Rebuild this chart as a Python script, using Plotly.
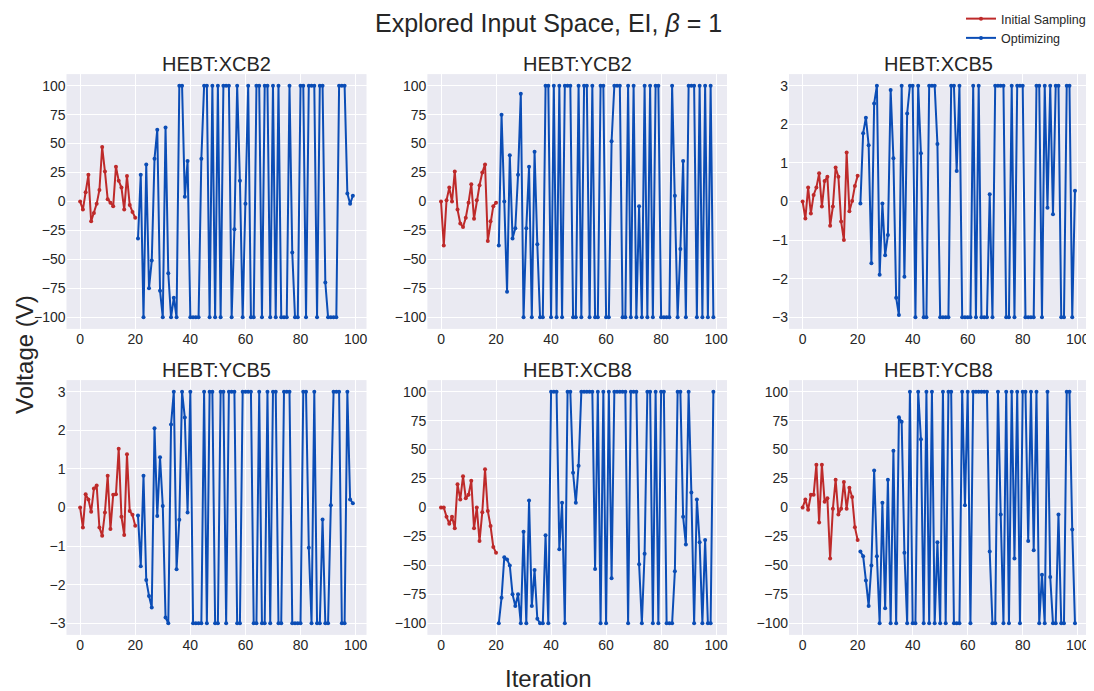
import plotly.graph_objects as go

channels = ["HEBT:XCB2", "HEBT:YCB2", "HEBT:XCB5", "HEBT:YCB5", "HEBT:XCB8", "HEBT:YCB8"]

xcb2_init = [0, -7, 8, 23, -17, -10, -2, 10, 47, 26, 2, -1, -4, 30, 18, 12, -7, 22, -3, -9, -14]
xcb2_opt = [-32, 23, -100, 32, -75, -51, 37, 62, -77, -100,
            64, -62, -100, -83, -100, 100, 100, 4, 35, -100,
            -100, -100, -100, 37, 100, 100, -100, 100, -100, 100,
            -100, 100, 100, 100, -100, -24, 100, 18, -100, -2,
            100, -100, -100, 100, 100, -100, 100, 100, -100, 100,
            -100, 100, -100, -100, -100, 100, -44, -100, -100, 100,
            100, -100, 100, 100, 100, -100, 100, 100, -70, -100,
            -100, -100, -100, 100, 100, 100, 7, -2, 5]

ycb2_init = [0, -38, 1, 12, 0, 26, -7, -19, -22, -14, -1, 15, -15, 1, 14, 25, 32, -34, -17, -4, -1]
ycb2_opt = [-38, 75, 0, -78, 40, -32, -23, 23, 93, -100,
            -23, 30, -100, 43, -37, -100, -100, 100, 100, -100,
            100, -100, 100, -100, 100, 100, 100, -100, -100, 100,
            -100, 100, 100, -100, 100, -100, -100, 100, 100, -100,
            -100, 52, 100, 100, 100, -100, -100, 100, -100, 100,
            -100, -4, -100, 100, -100, 100, -100, 100, 100, -100,
            -100, -100, -100, 100, 5, -100, -41, 35, -100, 100,
            100, 100, -100, 100, -100, 100, -100, 100, -100]

xcb5_init = [0, -0.44, 0.36, -0.31, 0.17, 0.36, 0.73, -0.13, 0.53, 0.64, -0.63, -0.13, 0.88, 0.64,
             -0.52, -1.0, 1.27, -0.25, 0.01, 0.40, 0.67]
xcb5_opt = [-0.05, 1.77, 2.17, 1.46, -1.60, 2.54, 3, -1.90, -0.05, -1.39,
            -0.87, 2.89, 1.12, -2.49, -2.94, 3, -1.95, 2.28, 3, 3,
            -3, 3, 1.25, -3, -3, 3, 3, 3, 1.49, -3,
            -3, -3, -3, 3, 3, 0.79, 3, -3, -3, -3,
            -3, 3, -3, 3, -3, -3, -3, 0.19, -3, 3,
            3, 3, 3, -3, -3, 3, -3, 3, 3, 3,
            -3, -3, -3, -3, 3, 3, -3, 3, -0.16, 3,
            -0.33, 3, 3, -3, -3, 3, 3, -3, 0.28]

ycb5_init = [0, -0.52, 0.34, 0.21, -0.11, 0.49, 0.57, -0.52, -0.73, -0.13, 0.82, -0.56, 0.33, 0.34,
             1.52, -0.24, -0.71, 1.38, -0.09, -0.19, -0.47]
ycb5_opt = [-0.21, -1.52, 0.82, -1.88, -2.29, -2.59, 2.05, -0.22, 1.30, 0.04,
            -2.85, -3, 2.15, 3, -1.60, -0.32, 3, 2.33, -0.13, 3,
            -3, -3, -3, -3, 3, -3, 3, 3, -3, -3,
            3, 3, -3, 3, 3, 3, -3, -3, 3, 3,
            3, 3, -3, -3, 3, -3, -3, 3, -3, 3,
            3, -3, -3, 3, 3, 3, -3, -3, -3, -3,
            3, 3, -1.04, -3, 3, -3, -3, -0.31, -3, -3,
            0.06, 3, 3, 3, -3, -3, 3, 0.21, 0.11]

xcb8_init = [0, 0, -8, -14, -8, -18, 20, 7, 27, 8, 11, 23, -18, 0, -29, -4, 33, -3, -16, -34, -39]
xcb8_opt = [-100, -78, -43, -45, -50, -75, -85, -75, -100, -21,
            -100, 6, -85, -54, -96, -100, -100, -24, -100, 100,
            100, 100, -36, 4, -100, 100, 100, 30, 4, 36,
            100, 100, 100, 100, 100, -53, 100, -100, 100, -100,
            100, -61, 100, 100, 100, 100, 100, -100, 100, 100,
            100, -49, -100, -40, 100, 100, -100, 100, -100, 100,
            100, -100, -100, -100, -55, 100, 100, -8, -32, 100,
            13, -100, 7, -30, -100, -28, -100, -100, 100]

ycb8_init = [0, 7, -2, 11, 11, 37, -13, 37, 5, 8, -44, -1, 24, -6, -1, 22, -1, 17, 9, -17, -28]
ycb8_opt = [-38, -42, -63, -85, -50, 32, -42, -100, 4, -87,
            24, -100, 49, -100, 78, 74, -39, -100, 100, -100,
            -100, 100, 59, -100, 100, -100, 100, -100, -30, -100,
            100, -100, 100, 100, -100, -100, -100, 100, 2, 100,
            -100, 100, 100, 100, 100, 100, 100, -38, -100, -100,
            100, -6, -100, 100, -100, 100, -44, 100, -100, 100,
            100, -29, 100, -37, 100, -100, -58, -100, 100, -60,
            -100, -100, -6, -100, -100, 100, 100, -19, -100]

init_series = [xcb2_init, ycb2_init, xcb5_init, ycb5_init, xcb8_init, ycb8_init]
opt_series = [xcb2_opt, ycb2_opt, xcb5_opt, ycb5_opt, xcb8_opt, ycb8_opt]
limits = [100, 100, 3, 3, 100, 100]

x_ticks = [0, 20, 40, 60, 80, 100]
y_ticks_big = [-100, -75, -50, -25, 0, 25, 50, 75, 100]
y_ticks_small = [-3, -2, -1, 0, 1, 2, 3]

RED = "#BE2A2A"
BLUE = "#0B4DB6"
BG = "#EAEAF2"
FONT = "Liberation Sans, Arial, sans-serif"
TXT = "#262626"

W, H = 1094, 691
OFF = 8  # page body margin offset
xdom_px = [(66.5, 366.5), (427.4, 727.0), (789.0, 1088.6)]
ydom_px = [(74.1, 328.9), (380.1, 634.9)]


def fx(px):
    return (px - OFF) / W


def fy(py):
    return 1 - (py - OFF) / H


fig = go.Figure()
annotations = []
for k in range(6):
    r, c = divmod(k, 3)
    ax = "" if k == 0 else str(k + 1)
    init = init_series[k]
    opt = opt_series[k]
    xi = list(range(len(init)))
    xo = list(range(len(init), len(init) + len(opt)))
    fig.add_trace(go.Scatter(x=xi, y=init, mode="lines+markers", name="Initial Sampling",
                             line=dict(color=RED, width=2), marker=dict(size=4, color=RED),
                             xaxis="x" + ax, yaxis="y" + ax, showlegend=(k == 0)))
    fig.add_trace(go.Scatter(x=xo, y=opt, mode="lines+markers", name="Optimizing",
                             line=dict(color=BLUE, width=2), marker=dict(size=4, color=BLUE),
                             xaxis="x" + ax, yaxis="y" + ax, showlegend=(k == 0)))
    x0, x1 = xdom_px[c]
    yt, yb = ydom_px[r]
    lim = limits[k]
    yticks = y_ticks_big if lim == 100 else y_ticks_small
    common = dict(showgrid=True, gridcolor="white", gridwidth=1, zeroline=False,
                  showline=False, ticks="", automargin=False,
                  tickfont=dict(size=14, color=TXT, family=FONT))
    fig.layout["xaxis" + ax] = dict(domain=[fx(x0), fx(x1)], range=[-4.95, 103.95],
                                    tickvals=x_ticks, anchor="y" + ax, **common)
    fig.layout["yaxis" + ax] = dict(domain=[fy(yb), fy(yt)], range=[-1.1 * lim, 1.1 * lim],
                                    tickvals=yticks, anchor="x" + ax, **common)
    annotations.append(dict(text=channels[k], x=fx((x0 + x1) / 2), y=fy(yt + 3),
                            xref="paper", yref="paper", xanchor="center", yanchor="bottom",
                            showarrow=False, font=dict(size=20, color=TXT, family=FONT)))

annotations.append(dict(text="Voltage (V)", x=fx(25), y=fy(355), xref="paper", yref="paper",
                        textangle=-90, showarrow=False, xanchor="center", yanchor="middle",
                        font=dict(size=24, color=TXT, family=FONT)))
annotations.append(dict(text="Iteration", x=fx(548), y=fy(678), xref="paper", yref="paper",
                        showarrow=False, xanchor="center", yanchor="middle",
                        font=dict(size=24, color=TXT, family=FONT)))
annotations.append(dict(text="Explored Input Space, EI, <i>β</i> = 1", x=fx(548), y=fy(8),
                        xref="paper", yref="paper", showarrow=False, xanchor="center",
                        yanchor="top", borderpad=0,
                        font=dict(size=25, color=TXT, family=FONT)))

fig.update_layout(
    width=W, height=H,
    margin=dict(l=0, r=0, t=0, b=0, autoexpand=False),
    paper_bgcolor="white", plot_bgcolor=BG,
    legend=dict(x=fx(961), xanchor="left", y=fy(4), yanchor="top", bgcolor="rgba(255,255,255,0)",
                font=dict(size=12.5, color=TXT, family=FONT), itemwidth=30, tracegroupgap=0),
    annotations=annotations,
    showlegend=True,
)

fig.write_html("out.html")
